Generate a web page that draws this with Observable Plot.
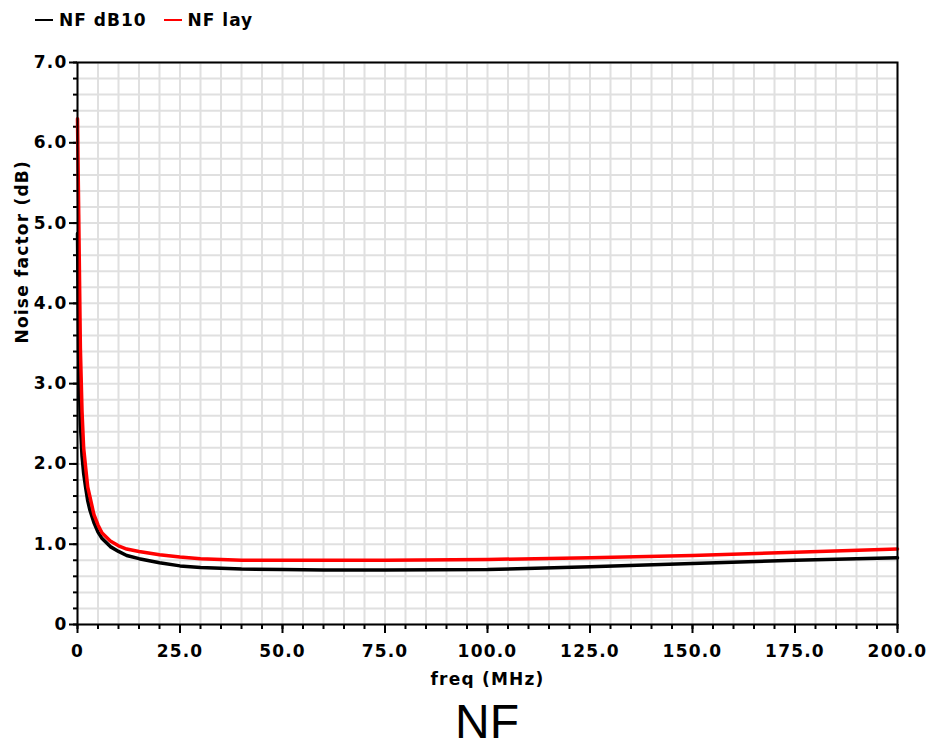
<!DOCTYPE html>
<html><head><meta charset="utf-8">
<script src="https://cdn.jsdelivr.net/npm/d3@7"></script>
<script src="https://cdn.jsdelivr.net/npm/@observablehq/plot@0.6"></script>
<style>
body{margin:0;background:#fff;width:932px;height:747px;overflow:hidden;font-family:"DejaVu Sans",sans-serif}
#legend{height:40px;display:flex;align-items:center;padding-left:35px;font-weight:bold;font-size:17px;letter-spacing:1px;color:#000}
#legend .item{display:flex;align-items:center;margin-right:17px}
#legend .sw{width:18px;height:2px;margin-right:6px}
#caption{text-align:center;font-family:"Liberation Sans",Arial,sans-serif;font-size:48px;line-height:52px;margin-top:8px;padding-left:42px;color:#000}
</style></head>
<body>
<div id="legend"></div>
<div id="chart"></div>
<div id="caption"></div>
<script>
const seriesNames = ["NF dB10", "NF lay"];
const seriesColors = ["#000000", "#ff0000"];
const freq   = [0, 0.3, 0.7, 1.1, 1.5, 2, 2.5, 3, 4, 5, 6, 8, 10, 12, 15, 20, 25, 30, 40, 50, 60, 75, 100, 125, 150, 175, 200];
const nfDb10 = [4.87, 3.3, 2.5, 2.1, 1.88, 1.7, 1.54, 1.43, 1.27, 1.15, 1.07, 0.97, 0.91, 0.86, 0.82, 0.77, 0.73, 0.71, 0.69, 0.685, 0.68, 0.68, 0.685, 0.72, 0.76, 0.80, 0.83];
const nfLay  = [6.3, 5.1, 3.45, 2.66, 2.2, 1.95, 1.71, 1.6, 1.37, 1.24, 1.14, 1.04, 0.98, 0.94, 0.91, 0.87, 0.84, 0.82, 0.80, 0.80, 0.80, 0.80, 0.81, 0.83, 0.86, 0.90, 0.94];
const xMajor = [0, 25, 50, 75, 100, 125, 150, 175, 200];
const xMinor = d3.range(0, 201, 5);
const yMajor = [0, 1, 2, 3, 4, 5, 6, 7];
const yMinor = d3.range(0, 36).map(i => i / 5);
const xTitle = "freq (MHz)";
const yTitle = "Noise factor (dB)";
const captionText = "NF";

const rows = [];
[nfDb10, nfLay].forEach((vals, s) => vals.forEach((v, i) => rows.push({series: seriesNames[s], freq: freq[i], nf: v})));

const legend = document.getElementById("legend");
seriesNames.forEach((n, i) => {
  const it = document.createElement("div"); it.className = "item";
  const sw = document.createElement("div"); sw.className = "sw"; sw.style.background = seriesColors[i];
  const t = document.createElement("span"); t.textContent = n;
  it.appendChild(sw); it.appendChild(t); legend.appendChild(it);
});
document.getElementById("caption").textContent = captionText;

const fmt = d => d === 0 ? "0" : d.toFixed(1);
const chart = Plot.plot({
  width: 932, height: 648,
  marginTop: 22, marginLeft: 77, marginRight: 35, marginBottom: 64,
  style: {fontFamily: "DejaVu Sans", fontSize: "17px", fontWeight: "bold", letterSpacing: "1.2px", color: "#000", background: "#fff"},
  x: {domain: [0, 200]},
  y: {domain: [0, 7]},
  color: {domain: seriesNames, range: seriesColors},
  marks: [
    Plot.gridX(xMinor, {stroke: "#e0e0e0", strokeOpacity: 1, strokeWidth: 2}),
    Plot.gridY(yMinor, {stroke: "#e0e0e0", strokeOpacity: 1, strokeWidth: 2}),
    Plot.axisX(xMinor, {tickSize: 5, tickFormat: () => "", strokeWidth: 2, label: null}),
    Plot.axisX(xMajor, {tickSize: 9, tickPadding: 11, tickFormat: fmt, strokeWidth: 2, label: null}),
    Plot.axisY(yMinor, {tickSize: 4, tickFormat: () => "", strokeWidth: 2, label: null}),
    Plot.axisY(yMajor, {tickSize: 8, tickPadding: 2, tickFormat: fmt, strokeWidth: 2, label: null}),
    Plot.line(rows, {x: "freq", y: "nf", z: "series", stroke: "series", strokeWidth: 3.5}),
    Plot.frame({stroke: "#000", strokeWidth: 2}),
    Plot.text([xTitle], {frameAnchor: "bottom", dy: 60, text: d => d, fontSize: 17, fontWeight: "bold"}),
    Plot.text([yTitle], {frameAnchor: "left", dx: -55, rotate: -90, text: d => d, fontSize: 17, fontWeight: "bold"})
  ]
});
document.getElementById("chart").appendChild(chart);
</script>
</body></html>
